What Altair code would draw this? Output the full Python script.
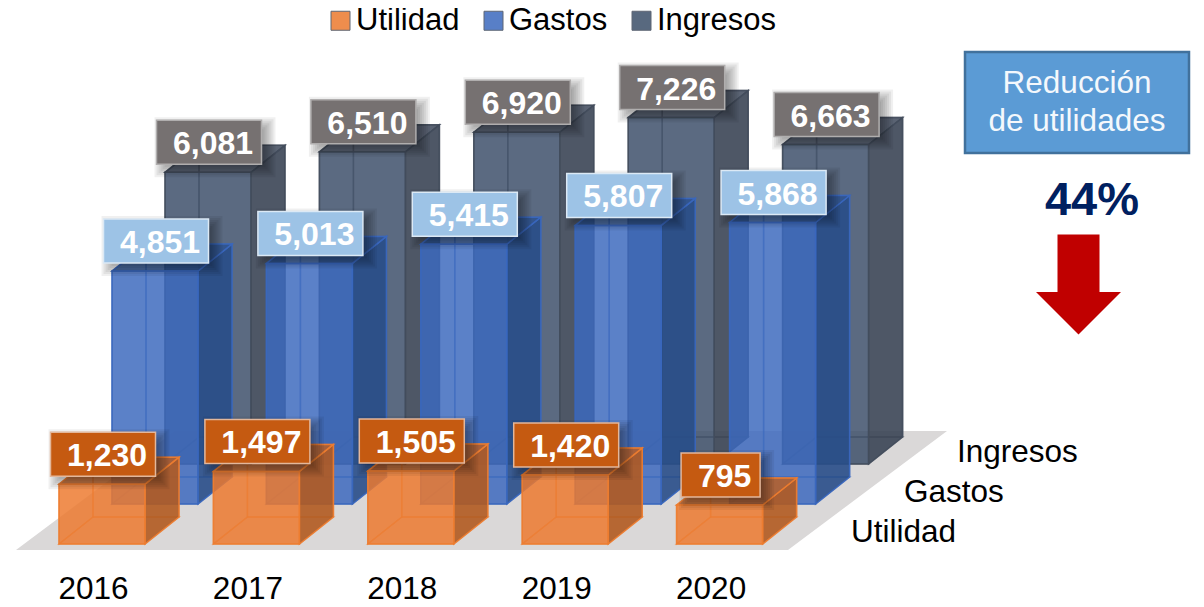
import altair as alt
import pandas as pd

# ---- chart values -------------------------------------------------------
YEARS = ["2016", "2017", "2018", "2019", "2020"]
SERIES = ["Utilidad", "Gastos", "Ingresos"]
UTILIDAD = [1230, 1497, 1505, 1420, 795]
GASTOS = [4851, 5013, 5415, 5807, 5868]
INGRESOS = [6081, 6510, 6920, 7226, 6663]
VALUES = {"Utilidad": UTILIDAD, "Gastos": GASTOS, "Ingresos": INGRESOS}

# ---- styles --------------------------------------------------------------
FONT = "Liberation Sans"
BASE = {"Utilidad": "#EC7A2E", "Gastos": "#3C69BE", "Ingresos": "#3C4F69"}
SIDE = {"Utilidad": "#A5541F", "Gastos": "#24487F", "Ingresos": "#3A4352"}
EDGE = {"Utilidad": "#ED7D31", "Gastos": "#3A67BE", "Ingresos": "#434C5C"}
BOX = {"Utilidad": "#C55A11", "Gastos": "#9DC3E6", "Ingresos": "#767171"}
BOX_EDGE = {"Utilidad": "#E3B79B", "Gastos": "#DCE9F5", "Ingresos": "#B0AEAE"}
SHADOW_STEPS = [-6, -4, -2, 0, 2, 4, 6, 8]

# ---- projection: value space of the scales <-> depth of the 3-D layout ---
PX_PER_UNIT = 0.0478
STEP = 154.4
W, DX, DY = 86, 34, 27
ROW_X, ROW_Y = 53, 40
ORIGIN_X, ORIGIN_Y = 59, 544
PLOT_W, PLOT_H = 1188, 598


def X(px):
    return (px - ORIGIN_X) / STEP


def Y(px):
    return (ORIGIN_Y - px) / PX_PER_UNIT


def top_px(v, row):
    return ORIGIN_Y - ROW_Y * row - 1 - v * PX_PER_UNIT


xs = alt.Scale(domain=[X(8), X(8 + PLOT_W)], nice=False, zero=False)
ys = alt.Scale(domain=[Y(8 + PLOT_H), Y(8)], nice=False, zero=False)


def enc_x(f="x"):
    return alt.X(f + ":Q", scale=xs, axis=None)


def enc_y(f="y"):
    return alt.Y(f + ":Q", scale=ys, axis=None)


def geometry(series, row):
    back, bottom, sides_l, sides_r, top, front = [], [], [], [], [], []
    for i, v in enumerate(VALUES[series]):
        L = ORIGIN_X + STEP * i + ROW_X * row
        b = ORIGIN_Y - ROW_Y * row
        t = top_px(v, row)
        R = L + W
        front.append(dict(x=X(L), x2=X(R), y=Y(t), y2=Y(b), series=series))
        back.append(dict(x=X(L + DX), x2=X(R + DX), y=Y(t - DY), y2=Y(b - DY)))
        for px, dy in [(L, 0), (L + DX, DY)]:
            sides_l.append(dict(id=i, x=X(px), y=Y(t - dy), y2=Y(b - dy)))
        for px, dy in [(R, 0), (R + DX, DY)]:
            sides_r.append(dict(id=i, x=X(px), y=Y(t - dy), y2=Y(b - dy)))
        for dx, dy in [(0, 0), (DX, DY)]:
            top.append(dict(id=i, x=X(L + dx), x2=X(R + dx), y=Y(t - dy)))
            bottom.append(dict(id=i, x=X(L + dx), x2=X(R + dx), y=Y(b - dy)))
    return [pd.DataFrame(d) for d in (back, bottom, sides_l, sides_r, top, front)]


def rects(df, **kw):
    return alt.Chart(df).mark_rect(**kw).encode(
        x=enc_x(), x2="x2:Q", y=enc_y(), y2="y2:Q")


def v_area(df, **kw):
    return alt.Chart(df).mark_area(**kw).encode(
        x=enc_x(), y=enc_y(), y2="y2:Q", detail="id:N")


def h_area(df, **kw):
    return alt.Chart(df).mark_area(orient="horizontal", **kw).encode(
        y=enc_y(), x=enc_x(), x2="x2:Q", detail="id:N")


layers = []

# floor
floor = pd.DataFrame([
    dict(id=0, x=X(16), x2=X(788), y=Y(550)),
    dict(id=0, x=X(175), x2=X(947), y=Y(431)),
])
layers.append(h_area(floor, color="#DAD8D8"))

color_scale = alt.Scale(domain=SERIES, range=[BASE[s] for s in SERIES])
legend = alt.Legend(
    orient="none", legendX=317, legendY=-3, direction="horizontal", title=None,
    symbolType="square", symbolSize=361, symbolOpacity=0.85, symbolStrokeWidth=1,
    labelFont=FONT, labelFontSize=31, labelColor="#000000", labelOffset=0,
    labelLimit=300, columnPadding=18, padding=0,
)

# boxes: back row first
for row, s in reversed(list(enumerate(SERIES))):
    back, bottom, left, right, top, front = geometry(s, row)
    inner = dict(strokeWidth=1.5, stroke=EDGE[s], strokeOpacity=0.5)
    outer = dict(strokeWidth=1.5, stroke=EDGE[s], strokeOpacity=0.9)
    layers.append(rects(back, fill=BASE[s], fillOpacity=0.6, **inner))
    layers.append(h_area(bottom, fill=BASE[s], fillOpacity=0.6, **inner))
    layers.append(v_area(left, fill=BASE[s], fillOpacity=0.6, **inner))
    layers.append(v_area(right, fill=SIDE[s], fillOpacity=0.75, **outer))
    layers.append(h_area(top, fill=SIDE[s], fillOpacity=0.6, **outer))
    layers.append(
        alt.Chart(front).mark_rect(fillOpacity=0.6, **outer).encode(
            x=enc_x(), x2="x2:Q", y=enc_y(), y2="y2:Q",
            color=alt.Color("series:N", scale=color_scale, legend=legend),
        )
    )

# value labels: shadow, box, number
shadow_rows, box_rows, text_rows = [], [], []
for row, s in enumerate(SERIES):
    for i, v in enumerate(VALUES[s]):
        L = ORIGIN_X + STEP * i + ROW_X * row
        t = top_px(v, row)
        label = f"{v:,}"
        half = 52.5 if len(label) > 3 else 39.5
        cx, cy = L + 44, t - 30
        for m in SHADOW_STEPS:
            shadow_rows.append(dict(
                x=X(cx - half + 6 - m), x2=X(cx + half + 6 + m),
                y=Y(cy - 22 + 5 - m), y2=Y(cy + 22 + 5 + m)))
        box_rows.append(dict(x=X(cx - half), x2=X(cx + half), y=Y(cy - 22),
                             y2=Y(cy + 22), fill=BOX[s], edge=BOX_EDGE[s]))
        text_rows.append(dict(x=X(L + 48), y=Y(t - 18), label=label))

layers.append(rects(pd.DataFrame(shadow_rows), color="#000000", opacity=0.06))
layers.append(
    alt.Chart(pd.DataFrame(box_rows)).mark_rect(strokeWidth=1.5).encode(
        x=enc_x(), x2="x2:Q", y=enc_y(), y2="y2:Q",
        fill=alt.Fill("fill:N", scale=None),
        stroke=alt.Stroke("edge:N", scale=None),
    )
)
layers.append(
    alt.Chart(pd.DataFrame(text_rows)).mark_text(
        font=FONT, fontSize=32, fontWeight="bold", color="#FFFFFF",
        align="center", baseline="alphabetic",
    ).encode(x=enc_x(), y=enc_y(), text="label:N")
)

# category labels and depth labels
year_df = pd.DataFrame([
    dict(x=X(ORIGIN_X + STEP * i + 34.5), y=Y(599), label=y) for i, y in enumerate(YEARS)
])
row_df = pd.DataFrame([
    dict(x=X(851 + ROW_X * r), y=Y(542 - ROW_Y * r), label=s) for r, s in enumerate(SERIES)
])
layers.append(
    alt.Chart(year_df).mark_text(font=FONT, fontSize=31.5, color="#000000",
                                 align="center", baseline="alphabetic")
    .encode(x=enc_x(), y=enc_y(), text="label:N")
)
layers.append(
    alt.Chart(row_df).mark_text(font=FONT, fontSize=31.5, color="#000000",
                                align="left", baseline="alphabetic")
    .encode(x=enc_x(), y=enc_y(), text="label:N")
)

# call-out
callout_box = pd.DataFrame([dict(x=X(965), x2=X(1189), y=Y(52), y2=Y(153))])
layers.append(rects(callout_box, fill="#5B9BD5", stroke="#41719C", strokeWidth=2.5))
callout_text = pd.DataFrame([
    dict(x=X(1077), y=Y(93), label="Reducción"),
    dict(x=X(1077), y=Y(131), label="de utilidades"),
])
layers.append(
    alt.Chart(callout_text).mark_text(font=FONT, fontSize=31.5, color="#F4F8FC",
                                      align="center", baseline="alphabetic")
    .encode(x=enc_x(), y=enc_y(), text="label:N")
)
pct = pd.DataFrame([dict(x=X(1092), y=Y(215), label="44%")])
layers.append(
    alt.Chart(pct).mark_text(font=FONT, fontSize=47, fontWeight="bold", color="#002060",
                             align="center", baseline="alphabetic")
    .encode(x=enc_x(), y=enc_y(), text="label:N")
)
shaft = pd.DataFrame([dict(x=X(1057.5), x2=X(1099.5), y=Y(234.5), y2=Y(292))])
head = pd.DataFrame([
    dict(id=0, x=X(1036), y=Y(292), y2=Y(292)),
    dict(id=0, x=X(1078.5), y=Y(292), y2=Y(334.5)),
    dict(id=0, x=X(1121), y=Y(292), y2=Y(292)),
])
layers.append(rects(shaft, color="#C00000"))
layers.append(v_area(head, color="#C00000"))

chart = alt.layer(*layers).properties(
    width=PLOT_W, height=PLOT_H, padding=0,
    autosize=alt.AutoSizeParams(type="none"),
).configure_view(stroke=None)

chart.save("out.html", embed_options={"renderer": "svg", "actions": False})
